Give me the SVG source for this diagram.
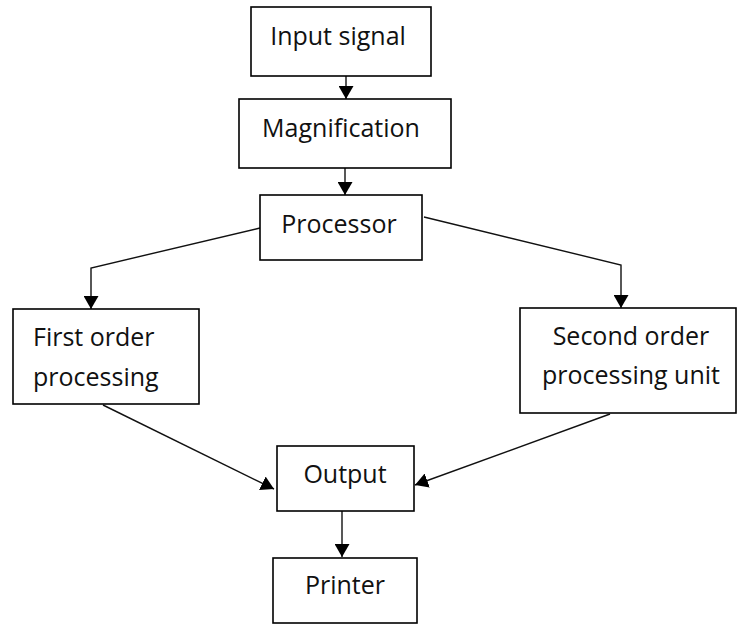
<svg xmlns="http://www.w3.org/2000/svg" width="737" height="624" viewBox="0 0 737 624">
  <style>
    .box { fill: #fff; stroke: #000; stroke-width: 1.6; }
    .lbl { font-family: "Open Sans", "Noto Sans", "Liberation Sans", sans-serif; font-size: 25px; fill: #111; }
    .mid { text-anchor: middle; }
    .wire { fill: none; stroke: #111; stroke-width: 1.4; }
  </style>
  <defs>
    <marker id="arrow" markerUnits="userSpaceOnUse" markerWidth="14" markerHeight="15" refX="13" refY="7.5" orient="auto">
      <path d="M0,0 L13,7.5 L0,15 z" fill="#000"/>
    </marker>
  </defs>
  <rect width="737" height="624" fill="#fff"/>

  <g id="connectors">
    <path class="wire" d="M346,76 L346,99" marker-end="url(#arrow)"/>
    <path class="wire" d="M345,168 L345,195" marker-end="url(#arrow)"/>
    <path class="wire" d="M260,228 L91,268 L91,309" marker-end="url(#arrow)"/>
    <path class="wire" d="M424,217 L621,265 L621,308" marker-end="url(#arrow)"/>
    <path class="wire" d="M103,405 L274,489" marker-end="url(#arrow)"/>
    <path class="wire" d="M610,414 L415,485" marker-end="url(#arrow)"/>
    <path class="wire" d="M342,511 L342,557" marker-end="url(#arrow)"/>
  </g>

  <g id="input-signal">
    <rect class="box" x="251" y="7" width="180" height="69"/>
    <text class="lbl mid" x="338" y="45">Input signal</text>
  </g>
  <g id="magnification">
    <rect class="box" x="239" y="99" width="212" height="69"/>
    <text class="lbl mid" x="341" y="137">Magnification</text>
  </g>
  <g id="processor">
    <rect class="box" x="260" y="195" width="162" height="65"/>
    <text class="lbl mid" x="339" y="233">Processor</text>
  </g>
  <g id="first-order">
    <rect class="box" x="13" y="309" width="186" height="95"/>
    <text class="lbl" x="33" y="346">First order</text>
    <text class="lbl" x="33" y="386">processing</text>
  </g>
  <g id="second-order">
    <rect class="box" x="520" y="308" width="216" height="105"/>
    <text class="lbl mid" x="631" y="345">Second order</text>
    <text class="lbl mid" x="631" y="384">processing unit</text>
  </g>
  <g id="output">
    <rect class="box" x="277" y="446" width="137" height="65"/>
    <text class="lbl mid" x="345" y="483">Output</text>
  </g>
  <g id="printer">
    <rect class="box" x="273" y="558" width="144" height="65"/>
    <text class="lbl mid" x="345" y="594">Printer</text>
  </g>
</svg>
